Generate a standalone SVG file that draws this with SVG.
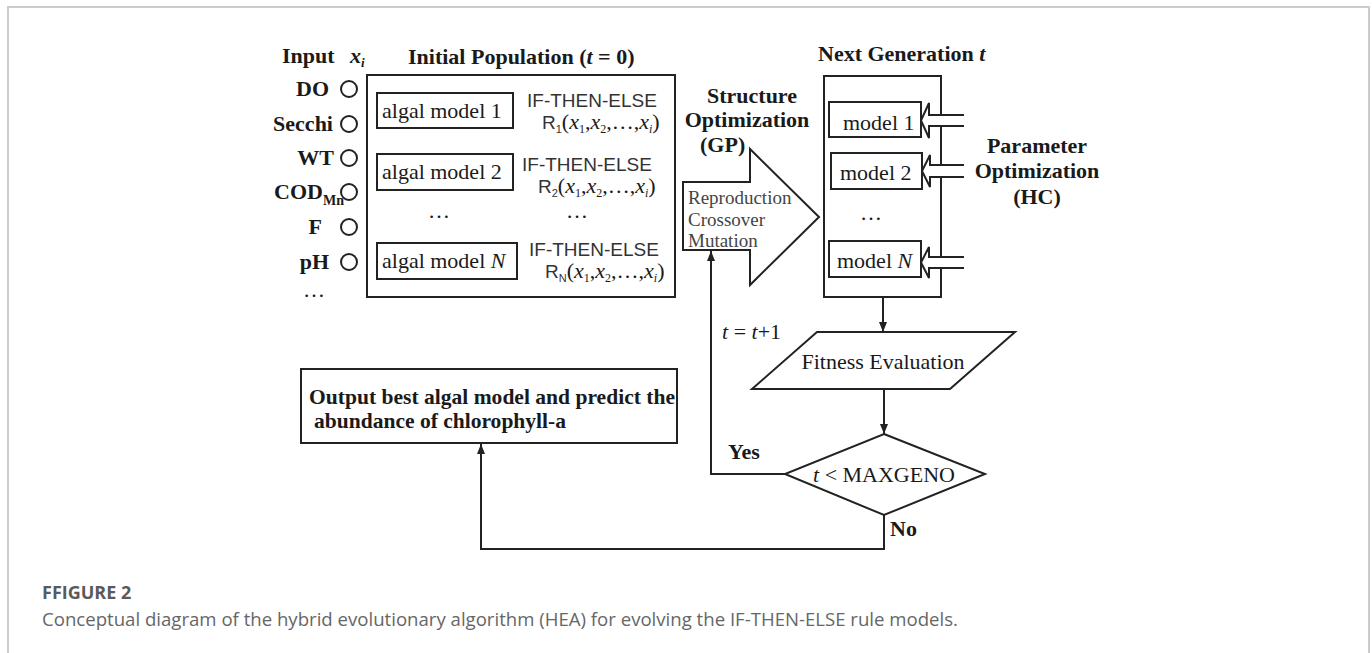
<svg xmlns="http://www.w3.org/2000/svg" width="1372" height="653" viewBox="0 0 1372 653">
<defs>
<style>
.ln{fill:none;stroke:#222;stroke-width:2}
.bx{fill:#fff;stroke:#222;stroke-width:2}
.tb{font-family:"Liberation Serif",serif;font-weight:bold;font-size:22px;fill:#1a1a1a}
.tr{font-family:"Liberation Serif",serif;font-size:22px;fill:#1a1a1a}
.ts{font-family:"Liberation Sans",sans-serif;font-size:19px;fill:#333}
.tg{font-family:"Liberation Serif",serif;font-size:19px;fill:#444}
.cap1{font-family:"Open Sans",sans-serif;font-weight:bold;font-size:18px;fill:#5a5a5a}
.cap2{font-family:"Open Sans",sans-serif;font-size:18.6px;fill:#666}
.it{font-style:italic}
</style>
<marker id="ah" markerWidth="10" markerHeight="8" refX="10" refY="4" orient="auto" markerUnits="userSpaceOnUse">
<path d="M0,0 L10,4 L0,8 z" fill="#222"/>
</marker>
</defs>
<rect x="8" y="7" width="1361" height="700" fill="none" stroke="#ccc" stroke-width="2"/>

<g id="inputs">
<text class="tb" x="282" y="63">Input</text>
<text class="tb it" x="350" y="63">x<tspan font-size="13" dy="4">i</tspan></text>
<g class="tb" text-anchor="end">
<text x="329" y="96">DO</text>
<text x="333" y="131">Secchi</text>
<text x="334" y="165">WT</text>
<text x="344" y="199">COD<tspan font-size="14" dy="6">Mn</tspan></text>
<text x="322" y="234">F</text>
<text x="329" y="269">pH</text>
</g>
<text class="tr" x="303" y="297">…</text>
<g class="ln">
<circle cx="349" cy="89" r="8"/>
<circle cx="349" cy="124" r="8"/>
<circle cx="349" cy="158" r="8"/>
<circle cx="349" cy="192" r="8"/>
<circle cx="349" cy="227" r="8"/>
<circle cx="349" cy="262" r="8"/>
</g>
</g>

<g id="initial-population">
<text class="tb" x="408" y="64">Initial Population (<tspan class="it">t</tspan> = 0)</text>
<rect class="bx" x="367" y="75" width="308" height="222" stroke-width="2.5"/>
<rect class="bx" x="377" y="93" width="136" height="35"/>
<text class="tr" x="382" y="118">algal model 1</text>
<rect class="bx" x="377" y="154" width="136" height="36"/>
<text class="tr" x="382" y="179">algal model 2</text>
<rect class="bx" x="377" y="243" width="140" height="36"/>
<text class="tr" x="382" y="268">algal model <tspan class="it">N</tspan></text>
<text class="tr" x="428" y="218">…</text>
<text class="tr" x="566" y="218">…</text>
<text class="ts" x="527" y="107">IF-THEN-ELSE</text>
<text class="ts" x="542" y="129">R<tspan font-size="11" dy="4">1</tspan><tspan class="tr" font-size="20" dy="-4">(<tspan class="it">x</tspan><tspan font-size="12" dy="4">1</tspan><tspan dy="-4">,</tspan><tspan class="it">x</tspan><tspan font-size="12" dy="4">2</tspan><tspan dy="-4">,…,</tspan><tspan class="it">x</tspan><tspan class="it" font-size="12" dy="4">i</tspan><tspan dy="-4">)</tspan></tspan></text>
<text class="ts" x="522" y="171">IF-THEN-ELSE</text>
<text class="ts" x="538" y="193">R<tspan font-size="11" dy="4">2</tspan><tspan class="tr" font-size="20" dy="-4">(<tspan class="it">x</tspan><tspan font-size="12" dy="4">1</tspan><tspan dy="-4">,</tspan><tspan class="it">x</tspan><tspan font-size="12" dy="4">2</tspan><tspan dy="-4">,…,</tspan><tspan class="it">x</tspan><tspan class="it" font-size="12" dy="4">i</tspan><tspan dy="-4">)</tspan></tspan></text>
<text class="ts" x="529" y="256">IF-THEN-ELSE</text>
<text class="ts" x="545" y="278">R<tspan font-size="11" dy="4">N</tspan><tspan class="tr" font-size="20" dy="-4">(<tspan class="it">x</tspan><tspan font-size="12" dy="4">1</tspan><tspan dy="-4">,</tspan><tspan class="it">x</tspan><tspan font-size="12" dy="4">2</tspan><tspan dy="-4">,…,</tspan><tspan class="it">x</tspan><tspan class="it" font-size="12" dy="4">i</tspan><tspan dy="-4">)</tspan></tspan></text>
</g>

<g id="structure-optimization">
<text class="tb" x="752" y="103" text-anchor="middle">Structure</text>
<text class="tb" x="747" y="127" text-anchor="middle">Optimization</text>
<text class="tb" x="700" y="152">(GP)</text>
<polygon class="bx" points="683,182 750,182 750,149 819,217 750,285 750,250 683,250"/>
<text class="tg" x="688" y="204">Reproduction</text>
<text class="tg" x="688" y="226">Crossover</text>
<text class="tg" x="688" y="247">Mutation</text>
</g>

<g id="next-generation">
<text class="tb" x="818" y="61">Next Generation <tspan class="it">t</tspan></text>
<rect class="bx" x="824" y="76" width="117" height="221"/>
<rect class="bx" x="829" y="102" width="92" height="35"/>
<text class="tr" x="843" y="130">model 1</text>
<rect class="bx" x="831" y="153" width="91" height="36"/>
<text class="tr" x="840" y="180">model 2</text>
<text class="tr" x="860" y="220">…</text>
<rect class="bx" x="829" y="241" width="92" height="36"/>
<text class="tr" x="837" y="268">model <tspan class="it">N</tspan></text>
</g>

<g id="parameter-optimization">
<path class="bx" d="M964,115 H929 V103 L921,120.5 L929,138 V126 H964"/>
<path class="bx" d="M964,165 H930 V155 L922,171 L930,187 V177 H964"/>
<path class="bx" d="M964,257 H929 V247 L921,262.5 L929,278 V268 H964"/>
<text class="tb" x="1037" y="153" text-anchor="middle">Parameter</text>
<text class="tb" x="1037" y="178" text-anchor="middle">Optimization</text>
<text class="tb" x="1037" y="204" text-anchor="middle">(HC)</text>
</g>

<g id="fitness-evaluation">
<polygon class="bx" points="817,332 1015,332 950,389 752,389"/>
<text class="tr" x="883" y="369" text-anchor="middle">Fitness Evaluation</text>
</g>

<g id="decision">
<polygon class="bx" points="884,434 985,474 884,515 785,474"/>
<text class="tr" x="884" y="482" text-anchor="middle"><tspan class="it">t</tspan> &lt; MAXGENO</text>
</g>

<g id="output">
<rect class="bx" x="301" y="369" width="376" height="74"/>
<text class="tb" x="309" y="404" font-size="20" textLength="366" lengthAdjust="spacingAndGlyphs">Output best algal model and predict the</text>
<text class="tb" x="314" y="428" font-size="20" textLength="252" lengthAdjust="spacingAndGlyphs">abundance of chlorophyll-a</text>
</g>

<g id="connectors">
<line class="ln" x1="883" y1="297" x2="883" y2="332" marker-end="url(#ah)"/>
<line class="ln" x1="884" y1="389" x2="884" y2="434" marker-end="url(#ah)"/>
<polyline class="ln" points="785,474 711,474 711,251" marker-end="url(#ah)"/>
<polyline class="ln" points="884,515 884,549 481,549 481,444" marker-end="url(#ah)"/>
<text class="tr it" x="722" y="339">t<tspan font-style="normal"> = </tspan>t<tspan font-style="normal">+1</tspan></text>
<text class="tb" x="728" y="459">Yes</text>
<text class="tb" x="890" y="536">No</text>
</g>

<g id="caption">
<text class="cap1" x="42" y="599">FFIGURE 2</text>
<text class="cap2" x="42" y="626">Conceptual diagram of the hybrid evolutionary algorithm (HEA) for evolving the IF-THEN-ELSE rule models.</text>
</g>
</svg>
